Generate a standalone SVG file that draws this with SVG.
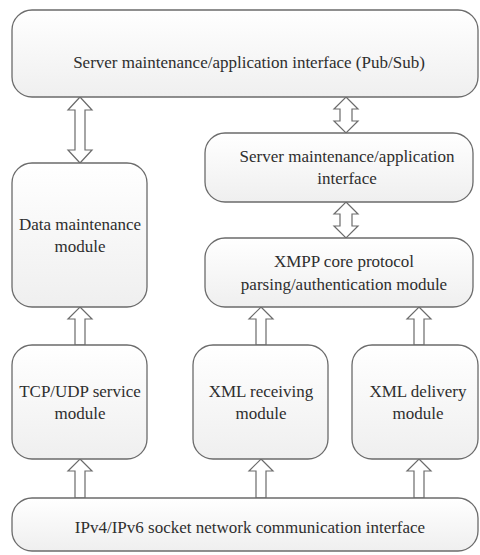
<svg xmlns="http://www.w3.org/2000/svg" width="480" height="555" viewBox="0 0 480 555">
  <defs>
    <linearGradient id="boxFill" x1="0" y1="0" x2="0" y2="1">
      <stop offset="0" stop-color="#ffffff"/>
      <stop offset="1" stop-color="#efefef"/>
    </linearGradient>
    <style>
      .box { fill: url(#boxFill); stroke: #6b6b6b; stroke-width: 1.3; }
      .arrow { fill: #ffffff; stroke: #6b6b6b; stroke-width: 1.2; stroke-linejoin: miter; }
      text { font-family: "Liberation Serif", "Times New Roman", serif; font-size: 17px; fill: #2e2e2e; text-anchor: middle; }
    </style>
  </defs>

  <rect width="480" height="555" fill="#ffffff"/>

  <!-- block arrows between modules -->
  <g id="connectors">
    <!-- Pub/Sub interface <-> data maintenance -->
    <path class="arrow" d="M80,97 L92,110 L85,110 L85,150 L92,150 L80,163 L68,150 L75,150 L75,110 L68,110 Z"/>
    <!-- Pub/Sub interface <-> server interface -->
    <path class="arrow" d="M346,97 L358,109 L352,109 L352,121 L358,121 L346,133 L334,121 L340,121 L340,109 L334,109 Z"/>
    <!-- server interface <-> XMPP core -->
    <path class="arrow" d="M346,202 L358,214 L352,214 L352,226 L358,226 L346,238 L334,226 L340,226 L340,214 L334,214 Z"/>
    <!-- TCP/UDP -> data maintenance -->
    <path class="arrow" d="M80,307 L92,319 L85,319 L85,345 L75,345 L75,319 L68,319 Z"/>
    <!-- XML receiving -> XMPP core -->
    <path class="arrow" d="M261,307 L273,319 L266,319 L266,345 L256,345 L256,319 L249,319 Z"/>
    <!-- XML delivery -> XMPP core -->
    <path class="arrow" d="M419,307 L431,319 L424,319 L424,345 L414,345 L414,319 L407,319 Z"/>
    <!-- socket interface -> TCP/UDP -->
    <path class="arrow" d="M80,459 L92,471 L85,471 L85,498 L75,498 L75,471 L68,471 Z"/>
    <!-- socket interface -> XML receiving -->
    <path class="arrow" d="M261,459 L273,471 L266,471 L266,498 L256,498 L256,471 L249,471 Z"/>
    <!-- socket interface -> XML delivery -->
    <path class="arrow" d="M419,459 L431,471 L424,471 L424,498 L414,498 L414,471 L407,471 Z"/>
  </g>

  <g id="pubsub-interface">
    <rect class="box" x="12" y="10" width="466" height="87" rx="20" ry="20"/>
    <text x="249" y="68" font-family="Liberation Serif, serif">Server maintenance/application interface (Pub/Sub)</text>
  </g>

  <g id="data-maintenance">
    <rect class="box" x="12" y="163" width="135" height="144" rx="20" ry="20"/>
    <text x="80" y="230">Data maintenance</text>
    <text x="80" y="252">module</text>
  </g>

  <g id="server-interface">
    <rect class="box" x="205" y="133" width="268" height="69" rx="20" ry="20"/>
    <text x="347" y="162">Server maintenance/application</text>
    <text x="347" y="184">interface</text>
  </g>

  <g id="xmpp-core">
    <rect class="box" x="205" y="238" width="268" height="69" rx="20" ry="20"/>
    <text x="344" y="267">XMPP core protocol</text>
    <text x="344" y="290">parsing/authentication module</text>
  </g>

  <g id="tcp-udp">
    <rect class="box" x="12" y="345" width="135" height="114" rx="20" ry="20"/>
    <text x="80" y="397">TCP/UDP service</text>
    <text x="80" y="419">module</text>
  </g>

  <g id="xml-receiving">
    <rect class="box" x="193" y="345" width="135" height="114" rx="20" ry="20"/>
    <text x="261" y="397">XML receiving</text>
    <text x="261" y="419">module</text>
  </g>

  <g id="xml-delivery">
    <rect class="box" x="352" y="345" width="126" height="114" rx="20" ry="20"/>
    <text x="418" y="397">XML delivery</text>
    <text x="418" y="419">module</text>
  </g>

  <g id="socket-interface">
    <rect class="box" x="12" y="498" width="466" height="53" rx="20" ry="20"/>
    <text x="250" y="533">IPv4/IPv6 socket network communication interface</text>
  </g>
</svg>
